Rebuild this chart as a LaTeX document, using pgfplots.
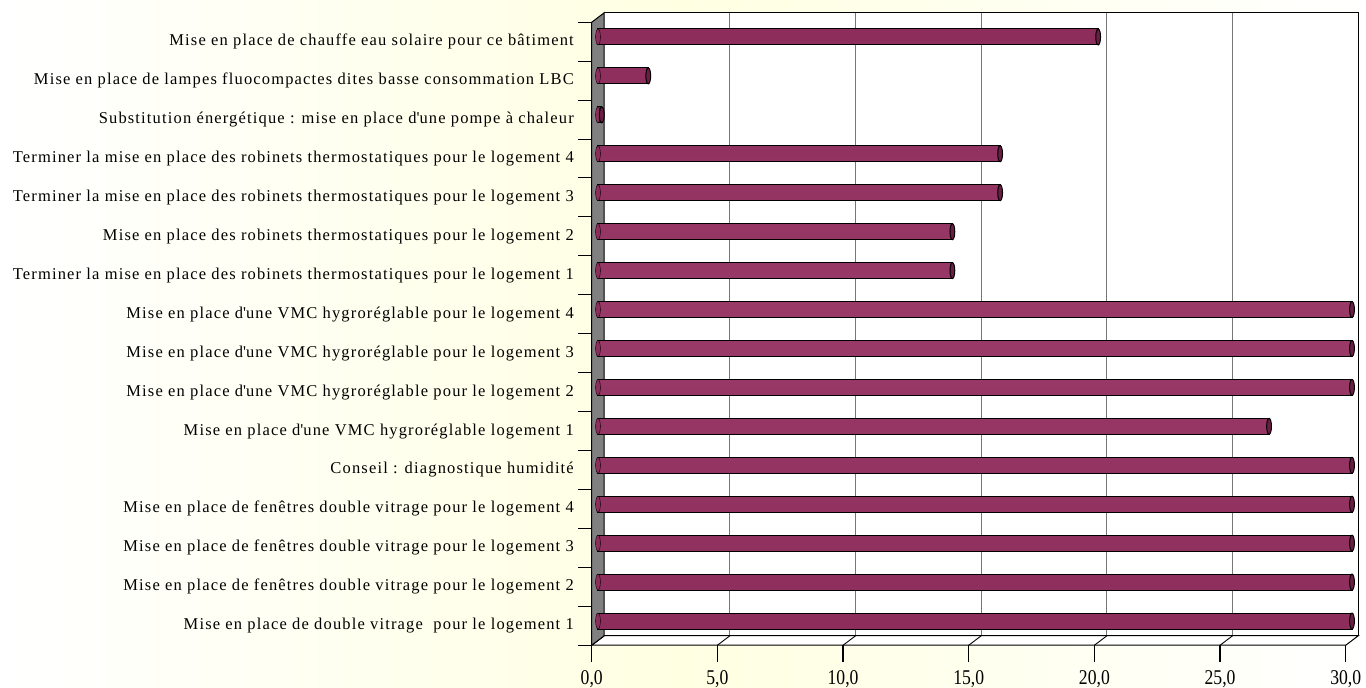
\documentclass[border=0pt]{standalone}
\usepackage{pgfplots}
\usepackage{pgfplotstable}
\pgfplotsset{compat=1.18}
\usetikzlibrary{calc}
\usepackage{fontspec}
\setmainfont{Liberation Serif}
\newfontfamily\labfont[LetterSpace=7]{Liberation Serif}
\newfontfamily\tickfont[FakeStretch=0.84]{Liberation Serif}
\definecolor{bgyellow}{HTML}{FFFFE2}
\definecolor{barc}{HTML}{8C2D5C}
\definecolor{barlight}{HTML}{9A3A68}
\definecolor{capc}{HTML}{6A1E44}
\definecolor{wallgray}{HTML}{808080}
\definecolor{gridgray}{HTML}{777777}
\newcommand{\ap}{\textquotesingle}
\newcommand{\tl}[1]{\hbox{\tickfont\fontsize{21}{24}\selectfont #1}}
\pgfplotstableread{
y val
0 30
1 30
2 30
3 30
4 30
5 26.7
6 30
7 30
8 30
9 14.1
10 14.1
11 16
12 16
13 0.15
14 2.0
15 19.9
}\datatable
\def\dx{6.25pt}
\def\dy{4.75pt}
\begin{document}
\begin{tikzpicture}
\shade[left color=white, right color=white, middle color=bgyellow] (0,0) rectangle (1366pt,688pt);
\begin{axis}[
  at={(598pt,47.5pt)}, anchor=south west,
  scale only axis, width=754pt, height=623pt,
  xmin=0, xmax=30, ymin=-0.5, ymax=15.5,
  clip=false,
  axis line style={draw=none},
  major tick length=0pt,
  xtick={0,5,10,15,20,25,30},
  xticklabels={{\tl{0,0}},{\tl{5,0}},{\tl{10,0}},{\tl{15,0}},{\tl{20,0}},{\tl{25,0}},{\tl{30,0}}},
  xticklabel style={anchor=north, inner sep=0pt, yshift=-29.5pt, xshift=-6.25pt},
  ytick={0,...,15},
  yticklabels={
    {Mise en place de double vitrage\ \ pour le logement 1},
    {Mise en place de fenêtres double vitrage pour le logement 2},
    {Mise en place de fenêtres double vitrage pour le logement 3},
    {Mise en place de fenêtres double vitrage pour le logement 4},
    {Conseil : diagnostique humidité},
    {Mise en place d\ap une VMC hygroréglable logement 1},
    {Mise en place d\ap une VMC hygroréglable pour le logement 2},
    {Mise en place d\ap une VMC hygroréglable pour le logement 3},
    {Mise en place d\ap une VMC hygroréglable pour le logement 4},
    {Terminer la mise en place des robinets thermostatiques pour le logement 1},
    {Mise en place des robinets thermostatiques pour le logement 2},
    {Terminer la mise en place des robinets thermostatiques pour le logement 3},
    {Terminer la mise en place des robinets thermostatiques pour le logement 4},
    {Substitution énergétique : mise en place d\ap une pompe à chaleur},
    {Mise en place de lampes fluocompactes dites basse consommation LBC},
    {Mise en place de chauffe eau solaire pour ce bâtiment}},
  yticklabel style={font=\labfont\fontsize{16.5}{18}\selectfont, anchor=east, inner sep=0pt, xshift=-24pt, yshift=-4.75pt},
]
% back wall
\fill[white] ([shift={(\dx,\dy)}]axis cs:0,-0.5) rectangle ([shift={(\dx,\dy)}]axis cs:30,15.5);
\pgfplotsinvokeforeach{5,10,15,20,25}{
  \draw[gridgray, line width=1.1pt] ([shift={(\dx,\dy)}]axis cs:#1,-0.5) -- ([shift={(\dx,\dy)}]axis cs:#1,15.5);
}
\draw[black, line width=1.2pt] ([shift={(\dx,\dy)}]axis cs:0,15.5) -- ([shift={(\dx,\dy)}]axis cs:30,15.5) -- ([shift={(\dx,\dy)}]axis cs:30,-0.5);
% floor
\filldraw[fill=white, draw=black, line width=1pt] ([shift={(-\dx,-\dy)}]axis cs:0,-0.5) -- ([shift={(-\dx,-\dy)}]axis cs:30,-0.5) -- ([shift={(\dx,\dy)}]axis cs:30,-0.5) -- ([shift={(\dx,\dy)}]axis cs:0,-0.5) -- cycle;
\pgfplotsinvokeforeach{5,10,15,20,25}{
  \draw[black, line width=0.9pt] ([shift={(-\dx,-\dy)}]axis cs:#1,-0.5) -- ([shift={(\dx,\dy)}]axis cs:#1,-0.5);
}
% side wall
\filldraw[fill=wallgray, draw=black, line width=1pt] ([shift={(-\dx,-\dy)}]axis cs:0,-0.5) -- ([shift={(-\dx,-\dy)}]axis cs:0,15.5) -- ([shift={(\dx,\dy)}]axis cs:0,15.5) -- ([shift={(\dx,\dy)}]axis cs:0,-0.5) -- cycle;
\coordinate (F0) at ([shift={(-\dx,-\dy)}]axis cs:0,-0.5);
\coordinate (F30) at ([shift={(-\dx,-\dy)}]axis cs:30,-0.5);
\coordinate (FT) at ([shift={(-\dx,-\dy)}]axis cs:0,15.5);
% left caps
\addplot[only marks, mark=*, mark size=8pt, mark options={xscale=0.3, fill=barc, draw=none}] table[x expr=0, y=y] {\datatable};
% bars
\addplot[xbar, bar width=16pt, draw=black, line width=1pt, top color=barc, bottom color=barc, middle color=barlight] table[x=val, y=y] {\datatable};
% right caps
\addplot[only marks, mark=*, mark size=8pt, mark options={xscale=0.3, fill=capc, draw=black, line width=1pt}] table[x=val, y=y] {\datatable};
\end{axis}
% front axis ticks
\foreach \i in {0,...,6} {
  \fill[black] ($(F0)!\i/6!(F30)+(-0.6pt,0pt)$) rectangle ($(F0)!\i/6!(F30)+(0.6pt,-17pt)$);
}
\foreach \i in {0,...,16} {
  \draw[black, line width=1pt] ($(F0)!\i/16!(FT)$) -- ++(-14pt,0);
}
\pgfresetboundingbox
\path (0,0) rectangle (1366pt,688pt);
\end{tikzpicture}
\end{document}
